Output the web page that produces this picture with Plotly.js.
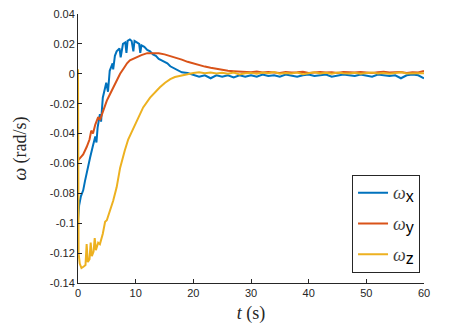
<!DOCTYPE html>
<html>
<head>
<meta charset="utf-8">
<script src="https://cdn.plot.ly/plotly-3.0.1.min.js"></script>
<style>
  body { margin: 0; background: #fff; }
  #chart { width: 476px; height: 331px; }
</style>
</head>
<body>
<div id="chart"></div>
<script>
// Angular rate response (t in s, omega in rad/s)
const tX = [0, 0.2, 0.5, 0.9, 1.2, 1.6, 2.1, 2.6, 3.0, 3.2, 3.4, 3.8, 4.0, 4.3, 4.9, 5.2, 5.5, 6.0, 6.1, 6.4, 6.7, 7.2, 7.4, 7.8, 8.2, 8.4, 8.6, 9.0, 9.3, 9.6, 9.8, 10.2, 10.6, 10.8, 11.0, 11.5, 12.0, 12.5, 13.0, 13.5, 14.0, 14.5, 15.0, 15.5, 16.0, 16.5, 17.0, 17.5, 18.0, 19.0,
  20, 21, 22, 23, 24, 25, 26, 27, 28, 29, 30, 31, 32, 33, 34, 35, 36, 37, 38, 39, 40, 41, 42, 43, 44, 45, 46, 47, 48, 49, 50, 51, 52, 53, 54, 55, 56, 57, 58, 59, 60];
const wX = [-0.098, -0.088, -0.082, -0.078, -0.072, -0.064, -0.056, -0.048, -0.042, -0.046, -0.036, -0.027, -0.032, -0.016, -0.006, -0.012, 0.002, 0.007, 0.003, 0.012, 0.015, 0.017, 0.011, 0.020, 0.021, 0.014, 0.022, 0.023, 0.022, 0.015, 0.022, 0.021, 0.020, 0.014, 0.019, 0.018, 0.016, 0.015, 0.013, 0.012, 0.010, 0.009, 0.008, 0.007, 0.005, 0.004, 0.003, 0.002, 0.001, 0.0005,
  -0.001, -0.002, -0.001, -0.003, -0.001, -0.002, -0.001, -0.0025, -0.001, -0.002, -0.001, -0.002, -0.0005, -0.0015, -0.001, -0.002, -0.0005, -0.001, -0.002, -0.001, -0.0005, -0.0015, -0.001, -0.0005, -0.002, -0.001, -0.0005, -0.001, -0.0015, -0.0005, -0.001, -0.002, -0.0005, -0.001, -0.0015, -0.001, -0.003, -0.001, -0.0005, -0.001, -0.003];

const tY = [0, 0.5, 0.9, 1.5, 2.0, 2.3, 2.6, 3.0, 3.5, 3.8, 4.3, 5.0, 5.5, 6.0, 6.5, 7.3, 8.0, 8.5, 9.0, 9.5, 10.2, 11.0, 12.0, 13.0, 14.0, 15.0, 16.0, 17.0, 18.0, 19.0,
  20, 21, 22, 23, 24, 25, 26, 27, 28, 29, 30, 31, 32, 33, 34, 35, 36, 37, 38, 39, 40, 41, 42, 43, 44, 45, 46, 47, 48, 49, 50, 51, 52, 53, 54, 55, 56, 57, 58, 59, 60];
const wY = [-0.058, -0.056, -0.054, -0.049, -0.044, -0.038, -0.040, -0.034, -0.029, -0.031, -0.025, -0.018, -0.014, -0.010, -0.006, 0.000, 0.004, 0.007, 0.009, 0.010, 0.011, 0.0125, 0.0138, 0.014, 0.0138, 0.013, 0.012, 0.0108, 0.0095, 0.008,
  0.0068, 0.0058, 0.0048, 0.004, 0.0032, 0.0026, 0.002, 0.0017, 0.0014, 0.0012, 0.001, 0.0015, 0.0008, 0.0012, 0.001, 0.0005, 0.0012, 0.0008, 0.001, 0.0014, 0.0006, 0.001, 0.0012, 0.0008, 0.001, 0.0005, 0.0012, 0.001, 0.0008, 0.0012, 0.001, 0.0006, 0.001, 0.0014, 0.0008, 0.001, 0.0012, 0.0006, 0.001, 0.0008, 0.0018];

const tZ = [0, 0.05, 0.1, 0.3, 0.6, 1.0, 1.3, 1.5, 1.7, 2.0, 2.2, 2.4, 2.7, 2.9, 3.1, 3.5, 3.8, 4.3, 4.7, 5.0, 5.5, 6.1, 6.7, 7.3, 8.1, 8.7, 9.3, 9.9, 10.5, 11.3, 12.5, 13.3, 14.2, 15.1, 16.0, 16.8, 17.7, 18.5, 19.4,
  20, 21, 22, 23, 24, 25, 26, 27, 28, 29, 30, 31, 32, 33, 34, 35, 36, 37, 38, 39, 40, 41, 42, 43, 44, 45, 46, 47, 48, 49, 50, 51, 52, 53, 54, 55, 56, 57, 58, 59, 60];
const wZ = [0.003, -0.05, -0.12, -0.127, -0.130, -0.129, -0.128, -0.114, -0.126, -0.124, -0.113, -0.122, -0.119, -0.110, -0.118, -0.113, -0.114, -0.107, -0.099, -0.098, -0.092, -0.085, -0.076, -0.063, -0.0515, -0.044, -0.039, -0.034, -0.030, -0.0225, -0.016, -0.0125, -0.009, -0.006, -0.0036, -0.0022, -0.0013, -0.0005, 0.0,
  0.0005, 0.001, 0.0003, 0.0008, 0.0002, 0.0006, 0.0, 0.0008, -0.0005, 0.0004, 0.0006, 0.0, 0.0008, 0.0003, 0.0012, 0.0, 0.0005, 0.0002, 0.0008, -0.0003, 0.0005, 0.001, 0.0002, 0.0006, 0.0, 0.0008, 0.0004, 0.0002, 0.0007, 0.0, 0.0005, 0.0009, 0.0002, 0.0005, 0.0001, 0.0006, 0.001, 0.0002, 0.0005, 0.0003, 0.0004];

const xTicks = [0, 10, 20, 30, 40, 50, 60];
const yTicks = [-0.14, -0.12, -0.1, -0.08, -0.06, -0.04, -0.02, 0, 0.02, 0.04];
const yTickText = ['-0.14', '-0.12', '-0.1', '-0.08', '-0.06', '-0.04', '-0.02', '0', '0.02', '0.04'];

const omega = '<span style="font-family:Liberation Serif;font-style:italic;font-size:18px;fill:#444">ω</span>';

function trace(t, w, name, color) {
    return {
        x: t,
        y: w,
        type: 'scatter',
        mode: 'lines',
        legendgroup: name,
        name: omega + '<sub><span style="font-size:16px">' + name + '</span></sub>',
        line: { color: color, width: 2 }
    };
}

const data = [
    trace(tX, wX, 'x', '#0072BD'),
    trace(tY, wY, 'y', '#D95319'),
    trace(tZ, wZ, 'z', '#EDB120')
];

const axisStyle = {
    showline: true,
    linecolor: '#262626',
    linewidth: 1,
    mirror: false,
    ticks: 'inside',
    ticklen: 4,
    tickcolor: '#262626',
    showgrid: false,
    zeroline: false,
    tickfont: { family: 'Liberation Sans, Arial', size: 11, color: '#262626' }
};

const layout = {
    width: 476,
    height: 331,
    margin: { l: 78, r: 52, t: 14, b: 48 },
    paper_bgcolor: '#fff',
    plot_bgcolor: '#fff',
    showlegend: true,
    legend: {
        x: 0.792, y: 0.402,
        xanchor: 'left', yanchor: 'top',
        bgcolor: '#fff',
        bordercolor: '#262626',
        borderwidth: 1,
        traceorder: 'grouped',
        tracegroupgap: 7,
        font: { family: 'Liberation Sans, Arial', size: 16, color: '#000' }
    },
    xaxis: Object.assign({}, axisStyle, {
        range: [0, 60],
        tickvals: xTicks,
        title: { text: '<i>t</i> (s)', font: { family: 'Liberation Serif', size: 18, color: '#262626' }, standoff: 8 }
    }),
    yaxis: Object.assign({}, axisStyle, {
        range: [-0.14, 0.04],
        tickvals: yTicks,
        ticktext: yTickText,
        title: { text: '<i>ω</i> (rad/s)', font: { family: 'Liberation Serif', size: 18, color: '#262626' }, standoff: 18 }
    })
};

Plotly.newPlot('chart', data, layout, { displayModeBar: false, staticPlot: true });
</script>
</body>
</html>
